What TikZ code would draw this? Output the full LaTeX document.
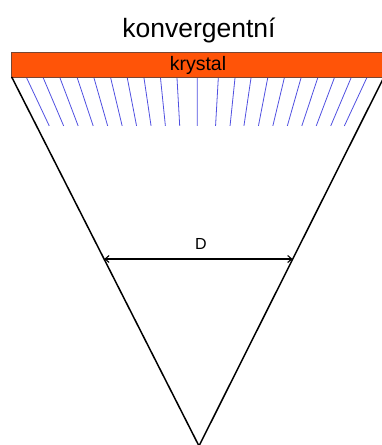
\documentclass[tikz,border=0pt]{standalone}
\usepackage{fontspec}
\setmainfont{Liberation Sans}
\usetikzlibrary{calc,arrows.meta}
\definecolor{crystal}{RGB}{255,84,8}
\definecolor{crystaledge}{RGB}{120,70,50}
\definecolor{rayblue}{RGB}{80,80,225}
\tikzset{
  edge/.style={line width=1.5pt, black},
  ray/.style={line width=0.8pt, rayblue},
  dim/.style={line width=1.1pt, black, {Straight Barb[length=4pt,width=7pt]}-{Straight Barb[length=4pt,width=7pt]}},
  lbl/.style={inner sep=0pt, anchor=base}
}
\begin{document}
\begin{tikzpicture}[x=1pt,y=-1pt]
\useasboundingbox (0,0) rectangle (382,445);
\clip (0,0) rectangle (382,445);
% title
\node[lbl, font=\fontsize{26.5}{30}\selectfont] (title) at (199,37) {konvergentní};
% crystal bar
\draw[fill=crystal, draw=crystaledge, line width=0.6pt] (11,52) rectangle (390,77);
\node[lbl, font=\fontsize{19.5}{22}\selectfont] (kr) at (198,70.7) {krystal};
% triangle
\coordinate (tl) at (11.7,77);
\coordinate (tr) at (384,77);
\coordinate (apex) at (199,446);
\draw[edge, line join=miter] (tl) -- (apex) -- (tr);
% rays
\coordinate (focus) at (197.5,441);
\foreach \x in {26.7,43.3,60,77.3,94,110.7,127.3,144,160.5,177,197.3,218.3,235,251,267.7,284.3,301,317.7,334.3,351,366.7}{
  \draw[ray] (\x,78) -- ($(\x,78)!0.1319!(focus)$);
}
% dimension D
\coordinate (dl) at (104.3,259);
\coordinate (dr) at (292.5,259);
\draw[dim] (dl) -- (dr);
\node[lbl, font=\fontsize{16}{19}\selectfont] (D) at (201,249.3) {D};
\end{tikzpicture}
\end{document}
